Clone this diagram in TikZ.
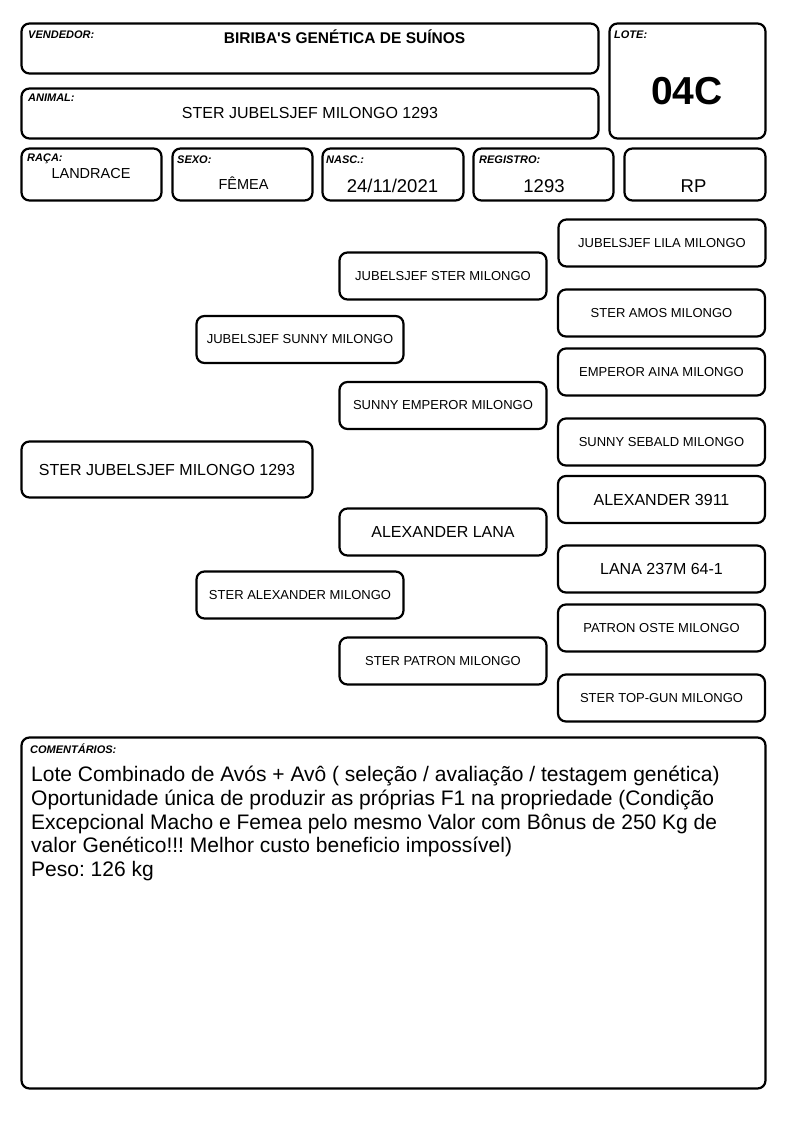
\documentclass[tikz,border=0pt]{standalone}
\usepackage{fontspec}
\setmainfont{Liberation Sans}
\usepackage{tikz}
\frenchspacing

\tikzset{
  campo/.style={draw, line width=2.2pt, rounded corners=8pt, inner sep=0pt},
  rotulo/.style={font=\fontsize{11}{12}\selectfont\bfseries\itshape, anchor=base west, inner sep=0pt},
  valor/.style={anchor=base, inner sep=0pt},
  avo/.style={campo, minimum width=207pt, minimum height=47pt, font=\fontsize{13}{15}\selectfont},
  avogrande/.style={avo, font=\fontsize{16}{18}\selectfont}
}

\begin{document}
\begin{tikzpicture}[x=1pt,y=-1pt]
    \useasboundingbox (0,0) rectangle (794,1123);
    % cabecalho
    \node[campo, minimum width=577pt, minimum height=50pt] (vend) at (310, 48.5) {};
    \node[campo, minimum width=577pt, minimum height=50pt] (anim) at (310, 113.5) {};
    \node[campo, minimum width=156pt, minimum height=115pt] (lote) at (687.5, 81) {};
    \node[campo, minimum width=140pt, minimum height=52pt] (raca) at (91.5, 174.5) {};
    \node[campo, minimum width=140pt, minimum height=52pt] (sexo) at (242.5, 174.5) {};
    \node[campo, minimum width=141pt, minimum height=52pt] (nasc) at (393, 174.5) {};
    \node[campo, minimum width=140pt, minimum height=52pt] (reg) at (543.5, 174.5) {};
    \node[campo, minimum width=141pt, minimum height=52pt] (rp) at (695, 174.5) {};
    \node[rotulo] (vendl) at (28, 38.5) {VENDEDOR:};
    \node[rotulo] (animl) at (28, 102) {ANIMAL:};
    \node[rotulo] (lotel) at (614, 38.5) {LOTE:};
    \node[rotulo] (racal) at (27, 162) {RAÇA:};
    \node[rotulo] (sexol) at (177, 164) {SEXO:};
    \node[rotulo] (nascl) at (326, 164) {NASC.:};
    \node[rotulo] (regl) at (479, 164) {REGISTRO:};
    \node[valor, font=\fontsize{15.5}{17}\selectfont\bfseries] (vendv) at (344.5, 43.5) {BIRIBA\textquotesingle S GENÉTICA DE SUÍNOS};
    \node[valor, font=\fontsize{16}{18}\selectfont] (animv) at (310, 119) {STER JUBELSJEF MILONGO 1293};
    \node[valor, font=\fontsize{39}{42}\selectfont\bfseries] (lotev) at (687, 105) {04C};
    \node[valor, font=\fontsize{14.5}{16}\selectfont] (racav) at (91, 178.3) {LANDRACE};
    \node[valor, font=\fontsize{14.5}{16}\selectfont] (sexov) at (243.5, 189.3) {FÊMEA};
    \node[valor, font=\fontsize{18.5}{20}\selectfont] (nascv) at (392.5, 192.8) {24/11/2021};
    \node[valor, font=\fontsize{18.5}{20}\selectfont] (regv) at (544, 192.8) {1293};
    \node[valor, font=\fontsize{18.5}{20}\selectfont] (rpv) at (693.5, 192.8) {RP};
    % pedigree
    \node[avo] (jlila) at (662, 243) {JUBELSJEF LILA MILONGO};
    \node[avo] (samos) at (661.5, 313) {STER AMOS MILONGO};
    \node[avo] (eaina) at (661.5, 372) {EMPEROR AINA MILONGO};
    \node[avo] (ssebald) at (661.5, 442) {SUNNY SEBALD MILONGO};
    \node[avogrande] (alex) at (661.5, 499.5) {ALEXANDER 3911};
    \node[avogrande] (lana) at (661.5, 569) {LANA 237M 64-1};
    \node[avo] (poste) at (661.5, 628) {PATRON OSTE MILONGO};
    \node[avo] (stopgun) at (661.5, 698) {STER TOP-GUN MILONGO};
    \node[avo] (jster) at (443, 276) {JUBELSJEF STER MILONGO};
    \node[avo] (semperor) at (443, 405.5) {SUNNY EMPEROR MILONGO};
    \node[avogrande] (alana) at (443, 532) {ALEXANDER LANA};
    \node[avo] (spatron) at (443, 661) {STER PATRON MILONGO};
    \node[avo] (jsunny) at (300, 339.5) {JUBELSJEF SUNNY MILONGO};
    \node[avo] (salex) at (300, 595) {STER ALEXANDER MILONGO};
    \node[avogrande, minimum width=291pt, minimum height=56pt] (animal) at (167, 469.5) {STER JUBELSJEF MILONGO 1293};
    % comentarios
    \node[campo, minimum width=744pt, minimum height=351pt] (coment) at (393.5, 913) {};
    \node[rotulo] (comentl) at (30, 753) {COMENTÁRIOS:};
    \node[anchor=north west, inner sep=0pt, align=left, font=\fontsize{21}{23.75}\selectfont] (comentv) at (31, 766)
      {Lote Combinado de Avós + Avô ( seleção / avaliação / testagem genética)\\
       Oportunidade única de produzir as próprias F1 na propriedade (Condição\\
       Excepcional Macho e Femea pelo mesmo Valor com Bônus de 250 Kg de\\
       valor Genético!!! Melhor custo beneficio impossível)\\
       Peso: 126 kg};
\end{tikzpicture}
\end{document}
